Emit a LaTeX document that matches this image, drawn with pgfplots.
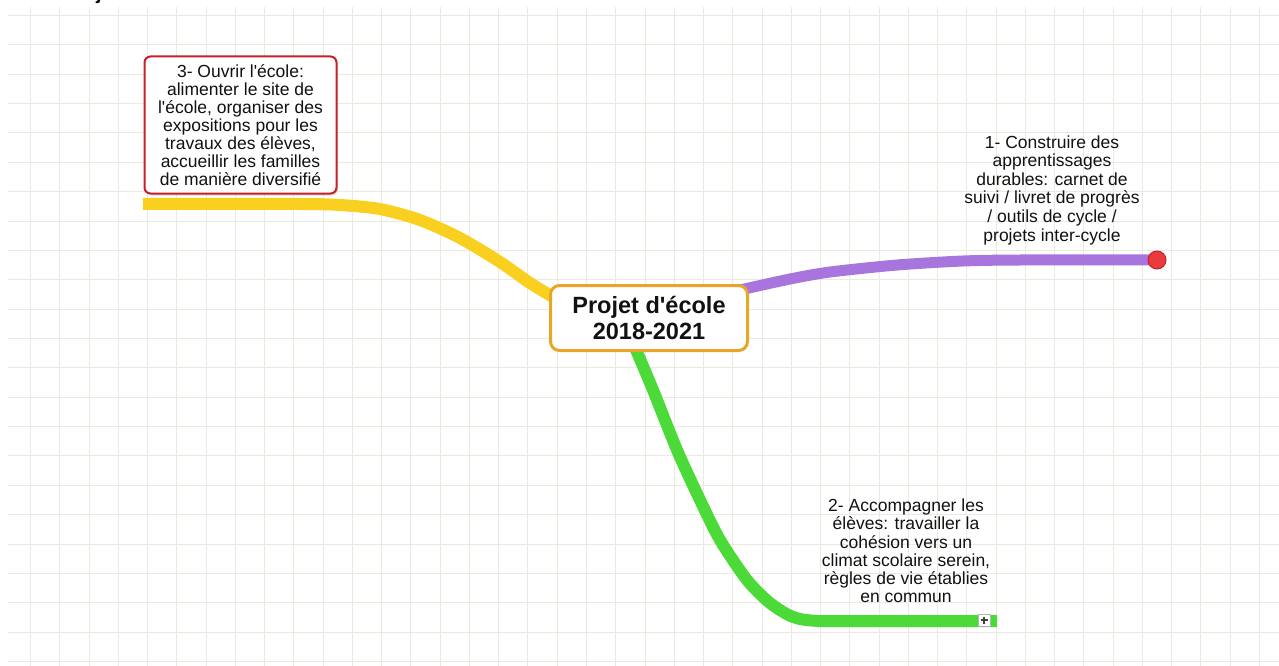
\documentclass[border=0pt]{standalone}
\usepackage{pgfplots}
\pgfplotsset{compat=1.18}
\usetikzlibrary{shadows}
\usepackage{fontspec}
\setmainfont{Liberation Sans}
\definecolor{gridc}{RGB}{234,234,224}
\definecolor{yel}{RGB}{250,208,32}
\definecolor{pur}{RGB}{168,116,222}
\definecolor{grn}{RGB}{76,218,56}
\definecolor{redd}{RGB}{232,60,60}
\definecolor{redb}{RGB}{200,32,40}
\definecolor{orb}{RGB}{232,165,40}
\definecolor{txt}{RGB}{17,17,17}
\newcommand{\q}{\textquotesingle}
\begin{document}
\begin{tikzpicture}
\begin{axis}[name=ax,
  x=1pt, y=1pt, scale only axis,
  xmin=0, xmax=1279, ymin=0, ymax=666, y dir=reverse,
  axis line style={draw=none},
  xtick={30.5,59.5,89.5,118.5,147.5,176.5,206.5,235.5,264.5,293.5,323.5,352.5,381.5,410.5,440.5,469.5,498.5,527.5,557.5,586.5,615.5,645.5,674.5,703.5,732.5,762.5,791.5,820.5,849.5,879.5,908.5,937.5,966.5,996.5,1025.5,1054.5,1083.5,1113.5,1142.5,1171.5,1200.5,1230.5,1259.5},
  ytick={15.5,44.5,74.5,103.5,132.5,162.5,191.5,221.5,250.5,279.5,309.5,338.5,367.5,397.5,426.5,455.5,485.5,514.5,544.5,573.5,602.5,632.5,661.5},
  xticklabels={}, yticklabels={},
  major tick length=0pt,
  grid=major, major grid style={draw=gridc, line width=1pt},
  clip=true]
% white margin (frame of the screenshot)
\addplot[fill=white, draw=none] coordinates {(-1,-1)(8,-1)(8,667)(-1,667)(-1,-1)};
\addplot[fill=white, draw=none] coordinates {(-1,-1)(1280,-1)(1280,7)(-1,7)(-1,-1)};
% branches
\addplot[yel, line width=12pt, smooth, tension=0.45] coordinates {
 (143,204)(300,204)(340,205)(380,209)(420,220)(460,238)(500,262)(530,283)(558,300)};
\addplot[pur, line width=11pt, smooth, tension=0.45] coordinates {
 (740,290)(790,279)(830,272)(897,265)(963,261)(1020,260)(1157,260)};
\addplot[grn, line width=12pt, smooth, tension=0.45] coordinates {
 (634,345)(653,390)(677,450)(700,500)(720,540)(747,580)(770,603)(793,617)(820,621)(900,621)(997,621)};
% end markers
\addplot[only marks, mark=*, mark size=9pt, mark options={fill=redd, draw=redb, line width=1pt}] coordinates {(1157,260)};
\addplot[only marks, mark=square*, mark size=6pt, mark options={fill=white, draw=gray!60, line width=0.8pt}] coordinates {(984,620)};
\addplot[only marks, mark=+, mark size=3.5pt, mark options={draw=black!75, line width=1.8pt}] coordinates {(984,620)};
% title fragment at the very top
\node[anchor=base west, inner sep=0pt, text=txt, font=\fontsize{20}{24}\selectfont\bfseries] at (96,0) {j};
% nodes
\node[draw=orb, line width=3pt, fill=white, rounded corners=9pt, minimum width=197pt, minimum height=65pt, align=center, text=txt, inner sep=0pt, font=\fontsize{23.5}{26.5}\selectfont\bfseries] at (649,318) {Projet d\q école\\2018-2021};
\node[draw=redb, line width=2pt, fill=white, rounded corners=6pt, minimum width=192pt, minimum height=137pt, align=center, text=txt, inner sep=0pt, drop shadow={opacity=0.25, shadow xshift=1.5pt, shadow yshift=-2pt}, font=\fontsize{17.5}{18}\selectfont] at (240.5,125) {3- Ouvrir l\q école:\\alimenter le site de\\l\q école, organiser des\\expositions pour les\\travaux des élèves,\\accueillir les familles\\de manière diversifié};
\node[align=center, text=txt, inner sep=0pt, font=\fontsize{17.5}{18.6}\selectfont] at (1052,190) {1- Construire des\\apprentissages\\durables: carnet de\\suivi / livret de progrès\\/ outils de cycle /\\projets inter-cycle};
\node[align=center, text=txt, inner sep=0pt, font=\fontsize{17.5}{18.2}\selectfont] at (906,551) {2- Accompagner les\\élèves: travailler la\\cohésion vers un\\climat scolaire serein,\\règles de vie établies\\en commun};
\end{axis}
\pgfresetboundingbox
\path[use as bounding box] (ax.south west) rectangle (ax.north east);
\end{tikzpicture}
\end{document}
